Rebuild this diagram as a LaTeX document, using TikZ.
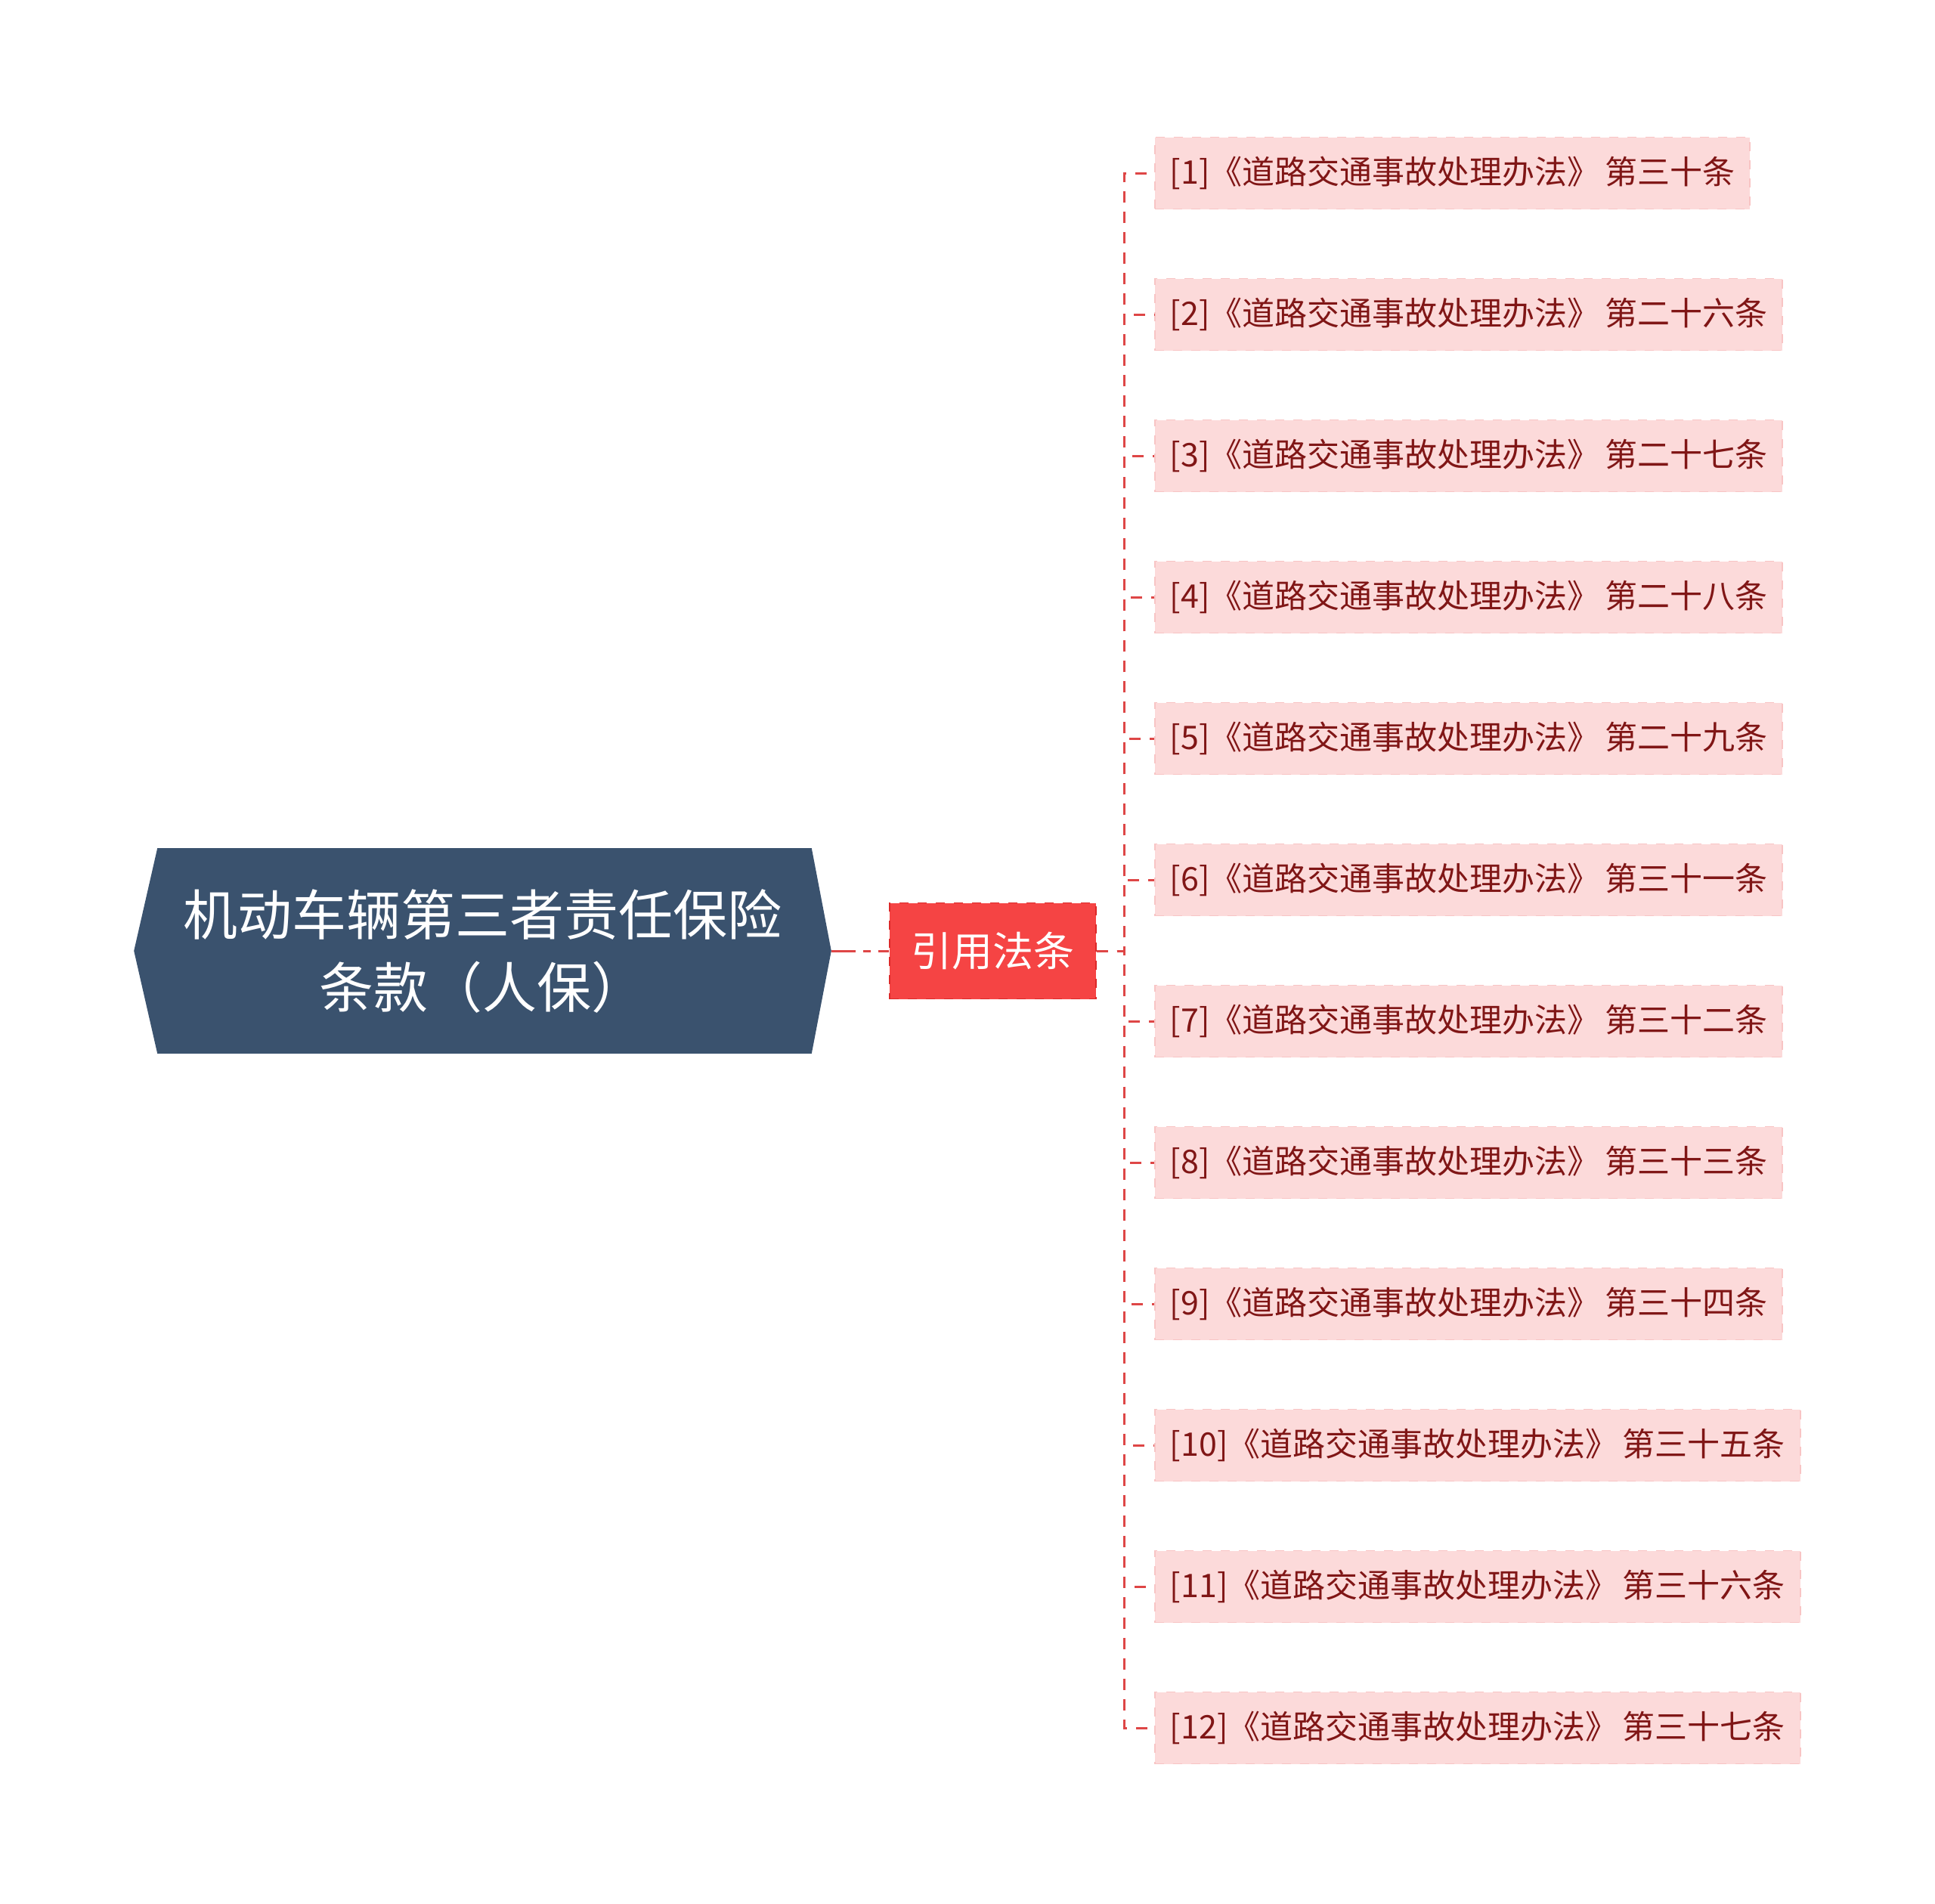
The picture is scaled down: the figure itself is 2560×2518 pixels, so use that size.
\documentclass[tikz,border=0pt]{standalone}
\usepackage{fontspec}
\setmainfont{Noto Sans CJK SC}
\usetikzlibrary{backgrounds}
\definecolor{rootblue}{RGB}{58,82,110}
\definecolor{midred}{RGB}{245,68,68}
\definecolor{midredline}{RGB}{220,40,40}
\definecolor{leafpink}{RGB}{252,218,218}
\definecolor{leafline}{RGB}{248,196,196}
\definecolor{leaftext}{RGB}{128,22,22}
\definecolor{linkred}{RGB}{222,70,70}
\begin{document}
\begin{tikzpicture}[x=0.25pt,y=-0.25pt,
    rootnode/.style={text=white,font=\fontsize{18}{24}\selectfont,align=center,minimum width=230.25pt,minimum height=67.5pt,inner sep=0pt},
    midnode/.style={fill=midred,draw=midredline,dashed,text=white,font=\fontsize{13.5}{16}\selectfont,minimum width=68.25pt,minimum height=31.75pt,inner sep=0pt},
    leaf/.style={fill=leafpink,draw=leafline,dashed,text=leaftext,font=\fontsize{10.75}{13}\selectfont,minimum height=23.75pt,inner xsep=5pt,inner ysep=0pt,anchor=west},
    link/.style={draw=linkred,line width=0.75pt,dash pattern=on 3.75pt off 3pt}]
  \useasboundingbox (0,0) rectangle (2560,2518);

  % root and the middle node
  \node[rootnode] (root) at (638.5,1258) {机动车辆第三者责任保险\\条款（人保）};
  \begin{scope}[on background layer]
    \fill[rootblue] (root.west) -- ([xshift=7.75pt]root.north west) -- ([xshift=-6.5pt]root.north east)
      -- (root.east) -- ([xshift=-6.5pt]root.south east) -- ([xshift=7.75pt]root.south west) -- cycle;
  \end{scope}
  \node[midnode] (cite) at (1313.5,1258) {引用法条};
  \draw[link,dash pattern=on 8pt off 2.5pt on 2.5pt off 2.5pt] (root.east) -- (cite.west);

  % leaves
  \coordinate (trunk) at (1487,1258);
  \foreach \n/\tiao in {1/第三十条,2/第二十六条,3/第二十七条,4/第二十八条,5/第二十九条,6/第三十一条,
      7/第三十二条,8/第三十三条,9/第三十四条,10/第三十五条,11/第三十六条,12/第三十七条}{
    \node[leaf] (law\n) at (1527,{229+187*(\n-1)}) {[\n]《道路交通事故处理办法》\hspace{1.6pt}\tiao};
    \draw[link] (cite.east) -- (trunk) |- (law\n.west);
  }
\end{tikzpicture}
\end{document}
